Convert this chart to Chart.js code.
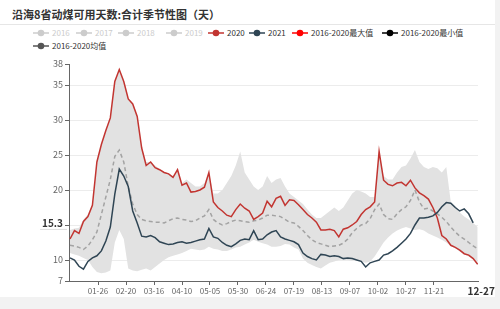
<!DOCTYPE html>
<html><head><meta charset="utf-8">
<script src="https://cdn.jsdelivr.net/npm/chart.js@4/dist/chart.umd.min.js"></script>
<style>
html,body{margin:0;padding:0;background:#f2f2f2;width:500px;height:309px;overflow:hidden;font-family:"Noto Sans CJK SC","Noto Sans",sans-serif}
#card{position:absolute;left:0;top:0;width:495px;height:297px;background:#fff}
#title{position:absolute;left:12px;top:6px;font-weight:bold;font-size:11px;color:#333;white-space:nowrap}
#rule{position:absolute;left:0;top:24px;width:495px;height:1px;background:#e6e6e6}
.lg{position:absolute;font-size:8px;line-height:10px;white-space:nowrap;display:flex;align-items:center}
.lg svg{margin-right:3px}
canvas{position:absolute;left:0;top:0}
</style></head>
<body>
<div id="card">
<div id="title">沿海8省动煤可用天数:合计季节性图（天）</div>
<div id="rule"></div>
<div id="legend"></div>
<canvas id="c" width="495" height="297"></canvas>
</div>
<script>
// sample days (day-of-year index, every 4 days)
const sampleDays = Array.from({length: 92}, (_, i) => i * 4);

const s2020 = [13.0,14.2,13.8,15.5,16.2,17.8,24.0,26.5,28.5,30.3,
  35.5,37.2,35.5,33.0,32.3,30.5,26.0,23.5,24.0,23.2,
  22.9,22.5,22.3,21.8,22.9,20.7,21.0,19.7,19.8,20.0,
  20.4,22.5,18.3,17.5,17.0,16.4,16.2,17.2,18.0,17.4,
  17.0,15.8,16.2,16.7,18.4,17.6,18.8,19.1,17.8,18.6,
  18.5,17.9,17.2,16.5,16.0,15.4,14.3,14.3,14.4,14.2,
  13.3,14.4,14.6,15.0,15.5,16.5,17.2,17.6,18.3,25.5,
  21.4,20.8,20.6,21.0,21.1,20.6,21.4,20.3,19.6,19.2,
  18.7,17.5,16.0,13.5,13.0,12.1,11.8,11.4,10.9,10.7,
  10.2,9.4];

const s2021 = [10.3,10.0,9.1,8.7,9.8,10.3,10.6,11.3,12.7,14.7,
  19.4,23.0,22.0,20.5,17.0,15.3,13.4,13.3,13.5,13.2,
  12.6,12.4,12.2,12.3,12.5,12.6,12.4,12.5,12.7,12.9,
  13.0,14.5,13.3,13.1,12.5,12.1,11.9,12.3,12.8,13.0,
  12.9,14.2,12.9,13.0,13.6,14.0,14.2,13.3,13.0,12.8,
  12.6,12.2,11.0,10.5,10.2,10.0,10.8,10.7,10.5,10.6,
  10.5,10.2,10.3,10.2,10.0,9.8,9.0,9.6,9.8,10.0,
  10.7,10.9,11.3,11.8,12.4,13.0,13.8,15.0,16.0,16.0,
  16.1,16.3,16.8,17.6,18.2,18.1,17.5,17.0,17.3,16.6,
  15.3,null];

const sMean = [12.1,12.0,11.8,11.5,12.0,12.9,14.0,16.5,19.0,21.5,
  24.8,25.7,24.0,20.5,18.0,16.5,15.8,15.6,15.5,15.4,
  15.4,15.3,15.6,15.9,16.0,15.8,15.7,15.5,15.6,16.0,
  16.3,17.2,15.8,15.3,15.0,15.2,15.5,15.7,15.6,15.5,
  15.4,15.6,15.7,16.0,16.4,16.4,16.3,16.2,15.8,15.4,
  15.3,14.8,14.2,13.5,12.9,12.5,12.3,12.1,11.9,12.0,
  12.1,12.4,13.0,13.9,14.5,15.0,15.2,15.9,17.2,18.0,
  16.5,15.9,15.8,16.6,17.2,17.6,18.5,20.0,18.3,17.3,
  17.4,17.0,16.6,16.1,15.5,14.7,14.0,13.4,13.0,12.5,
  12.0,11.6];

const sMax = [14.3,14.5,14.6,15.8,16.5,18.0,24.0,26.5,28.5,30.3,
  35.5,37.2,35.5,33.0,32.3,30.5,26.0,24.0,24.0,23.5,
  23.0,22.6,22.4,22.0,22.9,21.0,21.5,21.0,20.5,20.5,
  21.0,22.5,19.5,19.5,20.0,21.0,22.0,23.5,25.5,22.5,
  21.5,20.5,20.0,20.5,22.0,21.0,21.5,21.7,20.5,19.5,
  19.0,18.5,18.0,17.2,16.5,16.0,16.0,16.5,17.0,17.5,
  17.0,17.5,18.5,19.5,20.0,19.8,19.5,19.0,19.0,25.5,
  22.0,21.5,21.5,22.5,23.3,23.5,24.5,25.7,24.0,23.3,
  23.0,23.3,23.1,22.5,23.3,18.3,17.7,16.8,16.2,15.8,
  15.3,14.7];

const sMin = [11.0,10.8,10.6,10.3,10.0,9.0,8.3,8.1,8.2,8.5,
  12.5,14.3,13.0,8.8,8.5,8.4,8.6,8.8,8.5,9.0,
  9.5,10.0,10.4,10.6,10.8,11.0,11.3,11.6,11.5,11.4,
  11.5,11.9,11.6,11.5,11.3,11.3,11.5,11.8,11.9,12.2,
  12.5,12.9,12.6,12.4,12.2,11.9,11.9,12.0,12.3,12.2,
  11.8,11.5,10.2,9.6,9.3,9.0,8.8,9.2,9.6,9.8,
  10.0,10.1,10.0,9.9,10.0,9.8,9.6,9.8,10.5,11.5,
  12.5,13.2,13.8,14.2,14.5,14.7,14.5,14.3,14.4,14.2,
  13.8,13.5,13.2,12.9,12.5,12.0,11.7,11.2,10.8,10.5,
  10.1,9.3];

const xTickDays = [25,50,75,100,125,150,175,200,225,250,275,300,325];
const xTickLabels = ['01-26','02-20','03-16','04-10','05-05','05-30','06-24','07-19','08-13','09-07','10-02','10-27','11-21'];
const yTicks = [7,10,15,20,25,30,35,38];
const pointerDayLabel = '12-27';

const legendNames = ['2016','2017','2018','2019','2020','2021','2016-2020最大值','2016-2020最小值','2016-2020均值'];
const legendColors = ['#ccc','#ccc','#ccc','#ccc','#c23531','#2f4554','#ff0000','#000000','#555555'];
const legendOn = [false,false,false,false,true,true,true,true,true];
const legendPos = [[33,33],[76,33],[118,33],[166,33],[208,33],[249,33],[292,33],[382,33],[33,46]];

const lg = document.getElementById('legend');
legendNames.forEach((n,i)=>{
  const d=document.createElement('div'); d.className='lg';
  d.style.left=legendPos[i][0]+'px'; d.style.top=(legendPos[i][1]-5)+'px';
  const c = legendOn[i]?legendColors[i]:'#ccc';
  d.innerHTML='<svg width="16" height="8"><line x1="0" y1="4" x2="16" y2="4" stroke="'+c+'" stroke-width="1.5"/><circle cx="8" cy="4" r="3.3" fill="'+c+'"/></svg><span style="color:'+(legendOn[i]?'#333':'#ccc')+'">'+n+'</span>';
  lg.appendChild(d);
});

const pts = arr => sampleDays.map((d,i)=>({x:d,y:arr[i]}));
const FONT = '"Noto Sans CJK SC","Noto Sans",sans-serif';
Chart.defaults.font.family = FONT;

const lastIdx = s2021.reduce((a,v,i)=>v!=null?i:a,0);

const overlay = {
  id:'overlay',
  afterDraw(chart){
    const ctx=chart.ctx, xs=chart.scales.x, ys=chart.scales.y;
    const v = s2021[lastIdx];
    const py = ys.getPixelForValue(v);
    ctx.save();
    ctx.font='bold 10px '+FONT;
    ctx.textAlign='right'; ctx.textBaseline='middle';
    const t=v.toFixed(1); const w=ctx.measureText(t).width;
    ctx.fillStyle='#fff'; ctx.fillRect(xs.left-6-w-2, py-6, w+4, 12);
    ctx.strokeStyle='#ddd'; ctx.lineWidth=1;
    ctx.beginPath(); ctx.moveTo(xs.left-6-w-2, py+6.5); ctx.lineTo(xs.left-2, py+6.5); ctx.stroke();
    ctx.fillStyle='#333'; ctx.fillText(t, xs.left-6, py);
    const px = xs.getPixelForValue(sampleDays[lastIdx]);
    ctx.textAlign='center';
    ctx.fillStyle='#333';
    ctx.fillText(pointerDayLabel, px+8, ys.bottom+10);
    ctx.restore();
  }
};

new Chart(document.getElementById('c'), {
  type:'line',
  data:{datasets:[
    {label:'2021', data:pts(s2021), borderColor:'#2f4554', borderWidth:1.5, pointRadius:0, fill:false, order:1, spanGaps:false},
    {label:'2020', data:pts(s2020), borderColor:'#c23531', borderWidth:1.5, pointRadius:0, fill:false, order:2},
    {label:'2016-2020均值', data:pts(sMean), borderColor:'#a3a3a3', borderWidth:1.5, borderDash:[4,3], pointRadius:0, fill:false, order:3},
    {label:'2016-2020最大值', data:pts(sMax), borderColor:'rgba(0,0,0,0)', borderWidth:0, pointRadius:0, fill:'+1', backgroundColor:'#e2e2e2', order:4},
    {label:'2016-2020最小值', data:pts(sMin), borderColor:'rgba(0,0,0,0)', borderWidth:0, pointRadius:0, fill:false, order:5}
  ]},
  options:{
    responsive:false, animation:false, devicePixelRatio:1,
    layout:{padding:{left:0,right:17,top:64,bottom:0}},
    plugins:{legend:{display:false}, tooltip:{enabled:false}},
    elements:{line:{tension:0}},
    scales:{
      x:{type:'linear', min:-0.9, max:364.3,
        afterBuildTicks: s => { s.ticks = xTickDays.map(v=>({value:v})); },
        afterFit: s => { s.height = 16; },
        ticks:{autoSkip:false, maxRotation:0, padding:1, color:'#666', font:{size:8},
          callback:(v)=>{ const i=xTickDays.indexOf(v); return i>=0?xTickLabels[i]:''; }},
        grid:{drawOnChartArea:false, tickLength:4, tickColor:'#666'},
        border:{color:'#666', width:1}
      },
      y:{min:7, max:38,
        afterBuildTicks: s => { s.ticks = yTicks.map(v=>({value:v})); },
        afterFit: s => { s.width = 69; },
        ticks:{autoSkip:false, padding:2, color:'#666', font:{size:9},
          callback:(v)=> v===15?'':String(v)},
        grid:{tickLength:4, tickColor:'#666', color:(c)=> (c.tick && (c.tick.value===38||c.tick.value===7))?'rgba(0,0,0,0)':'#ececec'},
        border:{color:'#666', width:1}
      }
    }
  },
  plugins:[overlay]
});
</script>
</body></html>
